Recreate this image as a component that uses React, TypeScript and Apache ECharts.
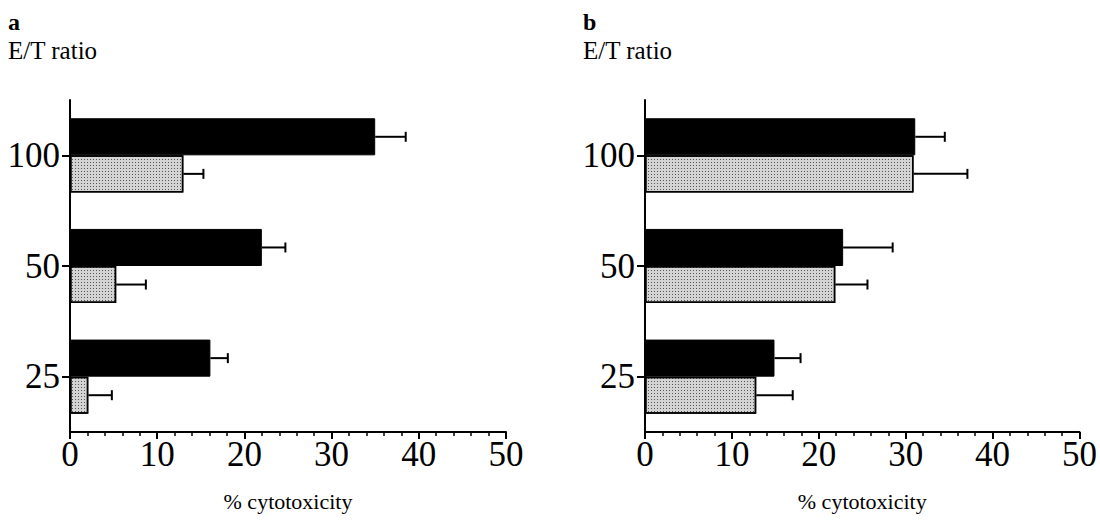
import React, { useEffect, useRef } from "react";
import * as echarts from "echarts";

const categories = ["25", "50", "100"];
const xTicks = [0, 10, 20, 30, 40, 50];

const aBlack = [16.1, 22.0, 35.0];
const aBlackErr = [2.0, 2.7, 3.5];
const aDot = [2.1, 5.3, 13.0];
const aDotErr = [2.7, 3.4, 2.3];

const bBlack = [14.9, 22.8, 31.1];
const bBlackErr = [3.0, 5.7, 3.4];
const bDot = [12.8, 21.9, 30.9];
const bDotErr = [4.2, 3.7, 6.2];

const FONT = "Liberation Serif";
const CAT_GAP = 0.33;

function errData(vals: number[], errs: number[], side: number) {
  return vals.map((v, i) => [v + errs[i], v, i, side]);
}

export default function App() {
  const ref = useRef<HTMLDivElement>(null);
  useEffect(() => {
    if (!ref.current) return;
    const chart = echarts.init(ref.current, null, { renderer: "svg" });

    const renderErr = (params: any, api: any) => {
      const cat = api.value(2);
      const side = api.value(3);
      const end = api.coord([api.value(0), cat]);
      const start = api.coord([api.value(1), cat]);
      const band = api.size([0, 1])[1];
      const barH = (band * (1 - CAT_GAP)) / 2;
      const y = start[1] + (side * barH) / 2;
      const style = { stroke: "#000", lineWidth: 2 };
      return {
        type: "group",
        children: [
          { type: "line", shape: { x1: start[0], y1: y, x2: end[0], y2: y }, style },
          { type: "line", shape: { x1: end[0], y1: y - 5, x2: end[0], y2: y + 5 }, style },
        ],
      };
    };

    const grids = [
      { left: 70, top: 100, width: 436, height: 332 },
      { left: 645, top: 100, width: 436, height: 332 },
    ];

    const xAxis = [0, 1].map((g) => ({
      type: "value",
      gridIndex: g,
      min: 0,
      max: 50,
      interval: 10,
      name: "% cytotoxicity",
      nameLocation: "middle",
      nameGap: 58,
      nameTextStyle: { fontFamily: FONT, fontSize: 22, color: "#000" },
      axisLine: { show: true, lineStyle: { color: "#000", width: 2 } },
      axisTick: { show: true, length: 7, lineStyle: { color: "#000", width: 2 } },
      minorTick: { show: true, splitNumber: 5, length: 4, lineStyle: { color: "#000", width: 1.5 } },
      splitLine: { show: false },
      axisLabel: {
        fontFamily: FONT,
        fontSize: 35,
        color: "#000",
        margin: 5,
        formatter: (v: number) => (xTicks.includes(v) ? String(v) : ""),
      },
    }));

    const yAxis = [0, 1].map((g) => ({
      type: "category",
      gridIndex: g,
      data: categories,
      axisLine: { show: true, lineStyle: { color: "#000", width: 2 } },
      axisTick: { show: true, alignWithLabel: true, length: 8, lineStyle: { color: "#000", width: 2 } },
      axisLabel: { fontFamily: FONT, fontSize: 35, color: "#000", margin: 10 },
    }));

    const dotStyle = {
      color: "#d4d4d4",
      borderColor: "#000",
      borderWidth: 1.5,
      decal: {
        symbol: "rect",
        symbolSize: 1,
        color: "rgba(0,0,0,0.6)",
        dashArrayX: [1, 2],
        dashArrayY: [1, 2],
        rotation: 0,
      },
    };
    const blackStyle = { color: "#000", borderColor: "#000", borderWidth: 1 };

    const barSeries = (g: number, data: number[], style: any) => ({
      type: "bar",
      xAxisIndex: g,
      yAxisIndex: g,
      data,
      barGap: "0%",
      barCategoryGap: "33%",
      itemStyle: style,
    });
    const errSeries = (g: number, vals: number[], errs: number[], side: number) => ({
      type: "custom",
      xAxisIndex: g,
      yAxisIndex: g,
      data: errData(vals, errs, side),
      encode: { x: [0, 1], y: 2 },
      renderItem: renderErr,
      z: 5,
    });

    chart.setOption({
      animation: false,
      backgroundColor: "#fff",
      grid: grids,
      xAxis,
      yAxis,
      graphic: [
        { type: "text", left: 8, top: 10, style: { text: "a", fontFamily: FONT, fontSize: 24, fontWeight: "bold", fill: "#000" } },
        { type: "text", left: 8, top: 38, style: { text: "E/T ratio", fontFamily: FONT, fontSize: 25, fill: "#000" } },
        { type: "text", left: 583, top: 10, style: { text: "b", fontFamily: FONT, fontSize: 24, fontWeight: "bold", fill: "#000" } },
        { type: "text", left: 583, top: 38, style: { text: "E/T ratio", fontFamily: FONT, fontSize: 25, fill: "#000" } },
      ],
      series: [
        barSeries(0, aBlack, blackStyle),
        barSeries(0, aDot, dotStyle),
        barSeries(1, bBlack, blackStyle),
        barSeries(1, bDot, dotStyle),
        errSeries(0, aDot, aDotErr, 1),
        errSeries(0, aBlack, aBlackErr, -1),
        errSeries(1, bDot, bDotErr, 1),
        errSeries(1, bBlack, bBlackErr, -1),
      ],
    });
    return () => chart.dispose();
  }, []);

  return <div ref={ref} style={{ width: 1100, height: 522, position: "absolute", left: 0, top: 0 }} />;
}
